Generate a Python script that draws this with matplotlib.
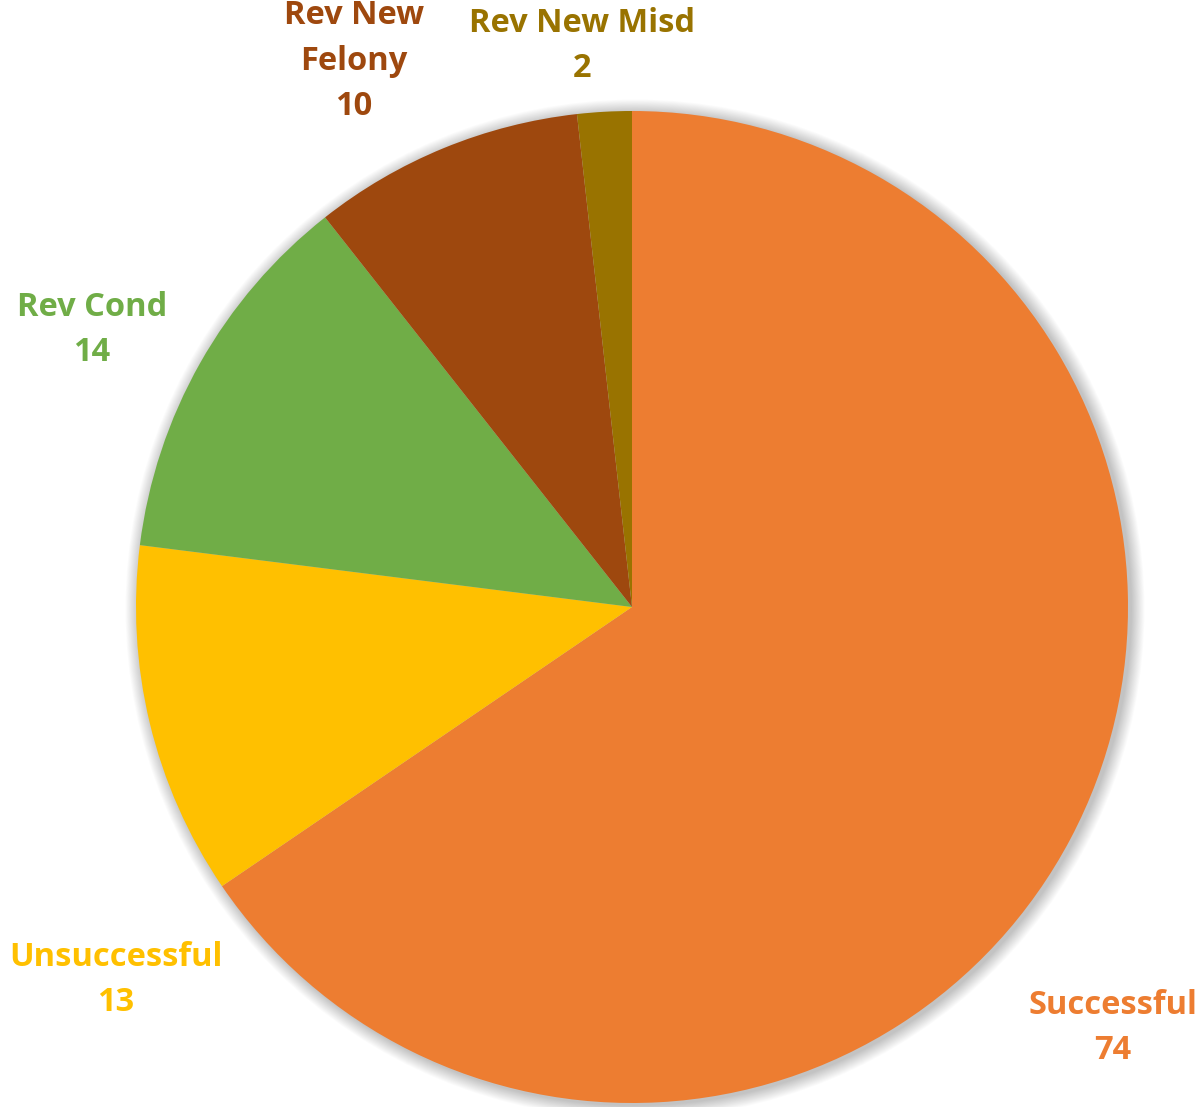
import matplotlib
matplotlib.use("Agg")
import matplotlib.pyplot as plt
from matplotlib.patches import Circle

# Outcome counts, clockwise from twelve o'clock
categories = ["Successful", "Unsuccessful", "Rev Cond", "Rev New\nFelony", "Rev New Misd"]
counts = [74, 13, 14, 10, 2]
colors = ["#ED7D31", "#FFC000", "#70AD47", "#9E480E", "#997300"]

# Label anchor points (pixel space, origin bottom-left)
label_xy = [(1113, 79), (116, 127), (92, 777), (354, 1046), (582, 1061)]

W, H = 1201, 1107
fig = plt.figure(figsize=(W / 100, H / 100), dpi=100)
ax = fig.add_axes([0, 0, 1, 1])
ax.set_xlim(0, W)
ax.set_ylim(0, H)
ax.set_aspect("equal")
ax.axis("off")

cx, cy, r = 632, 500, 496

# Soft drop shadow around the pie
for i in range(1, 16):
    ax.add_patch(Circle((cx + 3, cy - 2), r + i * 0.9, facecolor="black",
                        edgecolor="none", alpha=0.017, zorder=0))

ax.pie(counts, colors=colors, startangle=90, counterclock=False,
       center=(cx, cy), radius=r, frame=True,
       wedgeprops=dict(edgecolor="none", zorder=2))
ax.set_xlim(0, W)
ax.set_ylim(0, H)
ax.axis("off")

for name, val, col, (x, y) in zip(categories, counts, colors, label_xy):
    ax.text(x, y, f"{name}\n{val}", color=col, ha="center", va="center",
            fontsize=23.5, fontweight="bold", family="Open Sans",
            linespacing=1.49, zorder=5)

fig.savefig("out.png", dpi=100, facecolor="white")
